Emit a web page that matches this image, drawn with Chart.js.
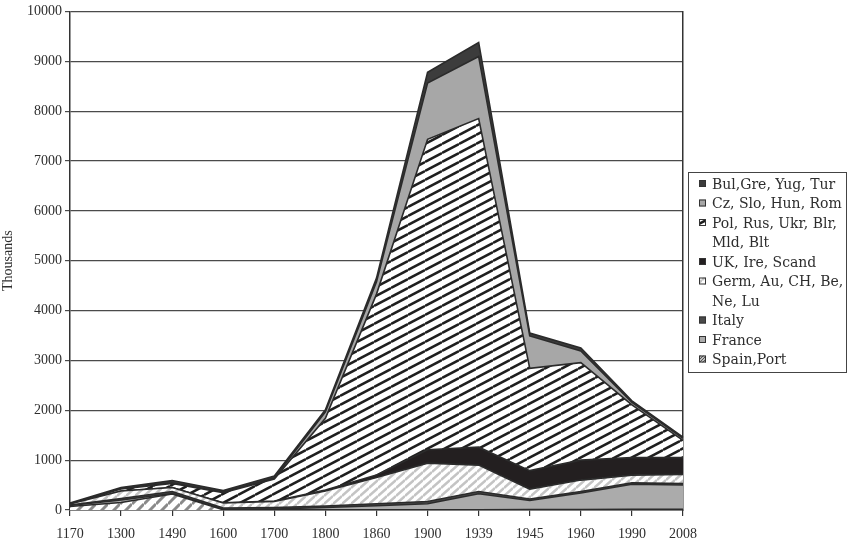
<!DOCTYPE html>
<html>
<head>
<meta charset="utf-8">
<script src="https://cdn.jsdelivr.net/npm/chart.js@4.4.0/dist/chart.umd.min.js"></script>
<style>
  html, body { margin: 0; padding: 0; background: #fff; }
</style>
</head>
<body>
<canvas id="chart" width="850" height="544"></canvas>
<script>
// Jewish population in Europe by region (thousands)
const years = ["1170", "1300", "1490", "1600", "1700", "1800", "1860", "1900", "1939", "1945", "1960", "1990", "2008"];

const spainPort = [70, 150, 320, 5, 5, 5, 5, 5, 5, 10, 10, 15, 15];
const france    = [20, 50, 10, 5, 15, 45, 80, 120, 320, 180, 330, 500, 485];
const italy     = [10, 30, 40, 30, 30, 30, 40, 45, 45, 30, 30, 30, 30];
const germAu    = [20, 150, 80, 100, 120, 300, 525, 770, 530, 200, 230, 155, 185];
const ukIre     = [0, 0, 0, 5, 10, 20, 50, 270, 360, 370, 400, 350, 335];
const polRus    = [0, 40, 80, 200, 440, 1440, 3630, 6225, 6590, 2050, 1955, 1060, 345];
const czSlo     = [5, 10, 15, 10, 20, 130, 250, 1130, 1245, 650, 235, 50, 40];
const bulGre    = [15, 20, 45, 35, 40, 40, 70, 215, 280, 60, 60, 30, 25];

const yTicks = [0, 1000, 2000, 3000, 4000, 5000, 6000, 7000, 8000, 9000, 10000];

// hatch patterns
function hatch(w, h, bg, fg, lw) {
  const c = document.createElement("canvas");
  c.width = w; c.height = h;
  const g = c.getContext("2d");
  g.fillStyle = bg;
  g.fillRect(0, 0, w, h);
  g.strokeStyle = fg;
  g.lineWidth = lw;
  for (let k = -1; k <= 1; k++) {
    g.beginPath();
    g.moveTo(0, (k + 1) * h);
    g.lineTo(w, k * h);
    g.stroke();
  }
  return g.createPattern(c, "repeat");
}

const pSpain = hatch(12, 12, "#ffffff", "#8a8a8a", 3);
const pGerm  = hatch(9, 8, "#ffffff", "#c4c4c4", 2.5);
const pPol   = hatch(17, 9, "#ffffff", "#1e1e1e", 2.5);
const pSpainKey = hatch(3, 3, "#bdbdbd", "#555", 1);

const series = [
  { label: ["Spain,Port"], data: spainPort, bg: pSpain, key: pSpainKey },
  { label: ["France"], data: france, bg: "#ababab" },
  { label: ["Italy"], data: italy, bg: "#4a4a4a" },
  { label: ["Germ, Au, CH, Be,", "Ne, Lu"], data: germAu, bg: pGerm },
  { label: ["UK, Ire, Scand"], data: ukIre, bg: "#231f20" },
  { label: ["Pol, Rus, Ukr, Blr,", "Mld, Blt"], data: polRus, bg: pPol },
  { label: ["Cz, Slo, Hun, Rom"], data: czSlo, bg: "#a7a7a7" },
  { label: ["Bul,Gre, Yug, Tur"], data: bulGre, bg: "#3c3c3c" },
];

const datasets = series.map((s, i) => ({
  label: s.label.join(" "),
  lines: s.label,
  key: s.key || s.bg,
  data: s.data,
  backgroundColor: s.bg,
  borderColor: "#2b2b2b",
  borderWidth: 1.6,
  pointRadius: 0,
  tension: 0,
  fill: i === 0 ? "origin" : "-1",
}));

const whiteBg = {
  id: "whiteBg",
  beforeDraw(chart) {
    const ctx = chart.ctx;
    ctx.save();
    ctx.fillStyle = "#fff";
    ctx.fillRect(0, 0, chart.width, chart.height);
    ctx.restore();
  },
};

// boxed legend on the right, top series first
const sideLegend = {
  id: "sideLegend",
  afterDraw(chart) {
    const ctx = chart.ctx;
    const bx = 688, by = 172, bw = 158, bh = 200;
    const lineH = 19.5;
    ctx.save();
    ctx.strokeStyle = "#444";
    ctx.lineWidth = 1;
    ctx.strokeRect(bx + 0.5, by + 0.5, bw, bh);
    ctx.font = "14px 'DejaVu Serif', serif";
    ctx.textBaseline = "middle";
    let y = by + 12;
    const ds = chart.data.datasets.slice().reverse();
    ds.forEach((d) => {
      ctx.fillStyle = d.key;
      ctx.fillRect(bx + 11, y - 4, 7, 7);
      ctx.strokeStyle = "#333";
      ctx.strokeRect(bx + 11.5, y - 3.5, 6, 6);
      ctx.fillStyle = "#2e2e2e";
      d.lines.forEach((t) => {
        ctx.fillText(t, bx + 24, y + 1);
        y += lineH;
      });
    });
    ctx.restore();
  },
};

const tickFont = { family: "'Liberation Serif', serif", size: 14 };

new Chart(document.getElementById("chart"), {
  type: "line",
  data: { labels: years, datasets },
  plugins: [whiteBg, sideLegend],
  options: {
    responsive: false,
    animation: false,
    layout: { padding: { top: 8, right: 167, left: 0, bottom: 0 } },
    plugins: {
      legend: { display: false },
      tooltip: { enabled: false },
      filler: { propagate: false },
    },
    scales: {
      x: {
        offset: false,
        grid: { display: true, drawOnChartArea: false, drawTicks: true, tickLength: 6, color: "#333", lineWidth: 1.2 },
        border: { color: "#333", width: 1.5 },
        ticks: { color: "#2e2e2e", font: tickFont, padding: 10, maxRotation: 0, autoSkip: false },
        afterFit(scale) { scale.height = 34; },
      },
      y: {
        stacked: true,
        min: 0,
        max: 10000,
        afterBuildTicks(scale) { scale.ticks = yTicks.map((v) => ({ value: v })); },
        grid: { color: "#4a4a4a", lineWidth: 1.2, tickLength: 5 },
        border: { color: "#333", width: 1.5 },
        ticks: { color: "#2e2e2e", font: tickFont, padding: 3, callback: (v) => String(v) },
        title: { display: true, text: "Thousands", color: "#2e2e2e", font: tickFont, padding: { top: 0, bottom: 2 } },
        afterFit(scale) { scale.width = 70; },
      },
      y2: {
        position: "right",
        min: 0,
        max: 10000,
        grid: { display: false },
        ticks: { display: false },
        border: { color: "#333", width: 1.5 },
        afterFit(scale) { scale.width = 0; },
      },
    },
  },
});
</script>
</body>
</html>
